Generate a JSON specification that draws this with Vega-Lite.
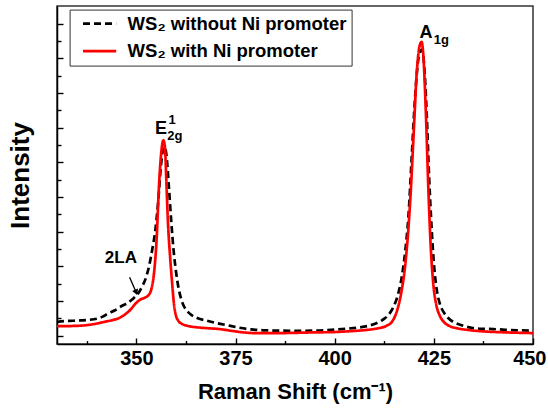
{
  "$schema": "https://vega.github.io/schema/vega-lite/v6.json",
  "width": 476,
  "height": 338,
  "autosize": {"type": "none"},
  "padding": {"left": 57, "top": 6, "right": 15, "bottom": 64},
  "background": "white",
  "config": {
    "font": "Liberation Sans",
    "view": {"stroke": "#333333", "strokeWidth": 1.5}
  },
  "datasets": {
    "spectra": [
      {"series": "WS₂ without Ni promoter", "shift": 330, "intensity": 0.80},
      {"series": "WS₂ without Ni promoter", "shift": 332, "intensity": 0.84},
      {"series": "WS₂ without Ni promoter", "shift": 334, "intensity": 0.86},
      {"series": "WS₂ without Ni promoter", "shift": 336, "intensity": 0.88},
      {"series": "WS₂ without Ni promoter", "shift": 338, "intensity": 0.91},
      {"series": "WS₂ without Ni promoter", "shift": 340, "intensity": 0.98},
      {"series": "WS₂ without Ni promoter", "shift": 341.5, "intensity": 1.10},
      {"series": "WS₂ without Ni promoter", "shift": 343, "intensity": 1.30},
      {"series": "WS₂ without Ni promoter", "shift": 344.5, "intensity": 1.45},
      {"series": "WS₂ without Ni promoter", "shift": 346, "intensity": 1.67},
      {"series": "WS₂ without Ni promoter", "shift": 347.5, "intensity": 1.85},
      {"series": "WS₂ without Ni promoter", "shift": 349, "intensity": 2.10},
      {"series": "WS₂ without Ni promoter", "shift": 350.5, "intensity": 2.45},
      {"series": "WS₂ without Ni promoter", "shift": 351.5, "intensity": 2.85},
      {"series": "WS₂ without Ni promoter", "shift": 352.5, "intensity": 3.40},
      {"series": "WS₂ without Ni promoter", "shift": 353.3, "intensity": 4.10},
      {"series": "WS₂ without Ni promoter", "shift": 354, "intensity": 4.95},
      {"series": "WS₂ without Ni promoter", "shift": 354.8, "intensity": 6.1},
      {"series": "WS₂ without Ni promoter", "shift": 355.5, "intensity": 7.7},
      {"series": "WS₂ without Ni promoter", "shift": 356.2, "intensity": 9.8},
      {"series": "WS₂ without Ni promoter", "shift": 356.7, "intensity": 10.7},
      {"series": "WS₂ without Ni promoter", "shift": 357.1, "intensity": 10.9},
      {"series": "WS₂ without Ni promoter", "shift": 357.6, "intensity": 10.4},
      {"series": "WS₂ without Ni promoter", "shift": 358.2, "intensity": 8.6},
      {"series": "WS₂ without Ni promoter", "shift": 358.8, "intensity": 6.6},
      {"series": "WS₂ without Ni promoter", "shift": 359.4, "intensity": 4.9},
      {"series": "WS₂ without Ni promoter", "shift": 360, "intensity": 3.7},
      {"series": "WS₂ without Ni promoter", "shift": 360.6, "intensity": 2.8},
      {"series": "WS₂ without Ni promoter", "shift": 361.2, "intensity": 2.2},
      {"series": "WS₂ without Ni promoter", "shift": 362, "intensity": 1.7},
      {"series": "WS₂ without Ni promoter", "shift": 362.8, "intensity": 1.42},
      {"series": "WS₂ without Ni promoter", "shift": 364, "intensity": 1.18},
      {"series": "WS₂ without Ni promoter", "shift": 365.5, "intensity": 1.0},
      {"series": "WS₂ without Ni promoter", "shift": 367.5, "intensity": 0.88},
      {"series": "WS₂ without Ni promoter", "shift": 370, "intensity": 0.74},
      {"series": "WS₂ without Ni promoter", "shift": 373, "intensity": 0.60},
      {"series": "WS₂ without Ni promoter", "shift": 376, "intensity": 0.46},
      {"series": "WS₂ without Ni promoter", "shift": 379, "intensity": 0.36},
      {"series": "WS₂ without Ni promoter", "shift": 382, "intensity": 0.31},
      {"series": "WS₂ without Ni promoter", "shift": 386, "intensity": 0.29},
      {"series": "WS₂ without Ni promoter", "shift": 390, "intensity": 0.28},
      {"series": "WS₂ without Ni promoter", "shift": 395, "intensity": 0.29},
      {"series": "WS₂ without Ni promoter", "shift": 400, "intensity": 0.35},
      {"series": "WS₂ without Ni promoter", "shift": 403, "intensity": 0.40},
      {"series": "WS₂ without Ni promoter", "shift": 406, "intensity": 0.47},
      {"series": "WS₂ without Ni promoter", "shift": 408.5, "intensity": 0.57},
      {"series": "WS₂ without Ni promoter", "shift": 410.5, "intensity": 0.72},
      {"series": "WS₂ without Ni promoter", "shift": 412, "intensity": 0.9},
      {"series": "WS₂ without Ni promoter", "shift": 413.5, "intensity": 1.18},
      {"series": "WS₂ without Ni promoter", "shift": 414.8, "intensity": 1.65},
      {"series": "WS₂ without Ni promoter", "shift": 416, "intensity": 2.4},
      {"series": "WS₂ without Ni promoter", "shift": 417, "intensity": 3.5},
      {"series": "WS₂ without Ni promoter", "shift": 417.8, "intensity": 4.9},
      {"series": "WS₂ without Ni promoter", "shift": 418.6, "intensity": 6.9},
      {"series": "WS₂ without Ni promoter", "shift": 419.4, "intensity": 10.2},
      {"series": "WS₂ without Ni promoter", "shift": 420.2, "intensity": 13.5},
      {"series": "WS₂ without Ni promoter", "shift": 421, "intensity": 15.8},
      {"series": "WS₂ without Ni promoter", "shift": 421.6, "intensity": 16.4},
      {"series": "WS₂ without Ni promoter", "shift": 422, "intensity": 16.5},
      {"series": "WS₂ without Ni promoter", "shift": 422.6, "intensity": 15.5},
      {"series": "WS₂ without Ni promoter", "shift": 423.2, "intensity": 12.8},
      {"series": "WS₂ without Ni promoter", "shift": 423.8, "intensity": 9.2},
      {"series": "WS₂ without Ni promoter", "shift": 424.3, "intensity": 6.8},
      {"series": "WS₂ without Ni promoter", "shift": 425, "intensity": 4.2},
      {"series": "WS₂ without Ni promoter", "shift": 425.7, "intensity": 2.7},
      {"series": "WS₂ without Ni promoter", "shift": 426.5, "intensity": 1.85},
      {"series": "WS₂ without Ni promoter", "shift": 427.5, "intensity": 1.35},
      {"series": "WS₂ without Ni promoter", "shift": 428.5, "intensity": 1.05},
      {"series": "WS₂ without Ni promoter", "shift": 430, "intensity": 0.78},
      {"series": "WS₂ without Ni promoter", "shift": 432, "intensity": 0.6},
      {"series": "WS₂ without Ni promoter", "shift": 434.5, "intensity": 0.46},
      {"series": "WS₂ without Ni promoter", "shift": 437, "intensity": 0.40},
      {"series": "WS₂ without Ni promoter", "shift": 440, "intensity": 0.38},
      {"series": "WS₂ without Ni promoter", "shift": 443, "intensity": 0.34},
      {"series": "WS₂ without Ni promoter", "shift": 446, "intensity": 0.31},
      {"series": "WS₂ without Ni promoter", "shift": 450, "intensity": 0.29},
      {"series": "WS₂ with Ni promoter", "shift": 330, "intensity": 0.55},
      {"series": "WS₂ with Ni promoter", "shift": 332, "intensity": 0.55},
      {"series": "WS₂ with Ni promoter", "shift": 334, "intensity": 0.56},
      {"series": "WS₂ with Ni promoter", "shift": 336, "intensity": 0.58},
      {"series": "WS₂ with Ni promoter", "shift": 338, "intensity": 0.62},
      {"series": "WS₂ with Ni promoter", "shift": 340, "intensity": 0.70},
      {"series": "WS₂ with Ni promoter", "shift": 342, "intensity": 0.80},
      {"series": "WS₂ with Ni promoter", "shift": 344, "intensity": 0.90},
      {"series": "WS₂ with Ni promoter", "shift": 345.5, "intensity": 1.0},
      {"series": "WS₂ with Ni promoter", "shift": 347, "intensity": 1.20},
      {"series": "WS₂ with Ni promoter", "shift": 348.5, "intensity": 1.50},
      {"series": "WS₂ with Ni promoter", "shift": 350, "intensity": 1.90},
      {"series": "WS₂ with Ni promoter", "shift": 351, "intensity": 2.08},
      {"series": "WS₂ with Ni promoter", "shift": 352, "intensity": 2.18},
      {"series": "WS₂ with Ni promoter", "shift": 353, "intensity": 2.32},
      {"series": "WS₂ with Ni promoter", "shift": 353.8, "intensity": 2.7},
      {"series": "WS₂ with Ni promoter", "shift": 354.5, "intensity": 3.7},
      {"series": "WS₂ with Ni promoter", "shift": 355.1, "intensity": 5.5},
      {"series": "WS₂ with Ni promoter", "shift": 355.7, "intensity": 8.6},
      {"series": "WS₂ with Ni promoter", "shift": 356.3, "intensity": 10.6},
      {"series": "WS₂ with Ni promoter", "shift": 356.8, "intensity": 11.27},
      {"series": "WS₂ with Ni promoter", "shift": 357.2, "intensity": 10.9},
      {"series": "WS₂ with Ni promoter", "shift": 357.6, "intensity": 8.7},
      {"series": "WS₂ with Ni promoter", "shift": 358.0, "intensity": 6.4},
      {"series": "WS₂ with Ni promoter", "shift": 358.5, "intensity": 4.6},
      {"series": "WS₂ with Ni promoter", "shift": 359, "intensity": 3.1},
      {"series": "WS₂ with Ni promoter", "shift": 359.5, "intensity": 1.8},
      {"series": "WS₂ with Ni promoter", "shift": 360, "intensity": 1.15},
      {"series": "WS₂ with Ni promoter", "shift": 360.6, "intensity": 0.85},
      {"series": "WS₂ with Ni promoter", "shift": 361.5, "intensity": 0.68},
      {"series": "WS₂ with Ni promoter", "shift": 363, "intensity": 0.56},
      {"series": "WS₂ with Ni promoter", "shift": 365, "intensity": 0.49},
      {"series": "WS₂ with Ni promoter", "shift": 368, "intensity": 0.43},
      {"series": "WS₂ with Ni promoter", "shift": 371, "intensity": 0.38},
      {"series": "WS₂ with Ni promoter", "shift": 374, "intensity": 0.28},
      {"series": "WS₂ with Ni promoter", "shift": 377, "intensity": 0.19},
      {"series": "WS₂ with Ni promoter", "shift": 380, "intensity": 0.15},
      {"series": "WS₂ with Ni promoter", "shift": 386, "intensity": 0.15},
      {"series": "WS₂ with Ni promoter", "shift": 395, "intensity": 0.19},
      {"series": "WS₂ with Ni promoter", "shift": 400, "intensity": 0.21},
      {"series": "WS₂ with Ni promoter", "shift": 404, "intensity": 0.26},
      {"series": "WS₂ with Ni promoter", "shift": 408, "intensity": 0.33},
      {"series": "WS₂ with Ni promoter", "shift": 411, "intensity": 0.43},
      {"series": "WS₂ with Ni promoter", "shift": 413, "intensity": 0.56},
      {"series": "WS₂ with Ni promoter", "shift": 414.5, "intensity": 0.82},
      {"series": "WS₂ with Ni promoter", "shift": 415.8, "intensity": 1.5},
      {"series": "WS₂ with Ni promoter", "shift": 416.8, "intensity": 2.5},
      {"series": "WS₂ with Ni promoter", "shift": 417.7, "intensity": 3.9},
      {"series": "WS₂ with Ni promoter", "shift": 418.5, "intensity": 5.9},
      {"series": "WS₂ with Ni promoter", "shift": 419.2, "intensity": 8.4},
      {"series": "WS₂ with Ni promoter", "shift": 419.9, "intensity": 11.6},
      {"series": "WS₂ with Ni promoter", "shift": 420.7, "intensity": 15.2},
      {"series": "WS₂ with Ni promoter", "shift": 421.4, "intensity": 16.7},
      {"series": "WS₂ with Ni promoter", "shift": 421.9, "intensity": 16.95},
      {"series": "WS₂ with Ni promoter", "shift": 422.4, "intensity": 16.0},
      {"series": "WS₂ with Ni promoter", "shift": 423, "intensity": 12.8},
      {"series": "WS₂ with Ni promoter", "shift": 423.6, "intensity": 8.6},
      {"series": "WS₂ with Ni promoter", "shift": 424.2, "intensity": 5.2},
      {"series": "WS₂ with Ni promoter", "shift": 424.9, "intensity": 2.9},
      {"series": "WS₂ with Ni promoter", "shift": 425.6, "intensity": 1.8},
      {"series": "WS₂ with Ni promoter", "shift": 426.5, "intensity": 1.15},
      {"series": "WS₂ with Ni promoter", "shift": 427.5, "intensity": 0.8},
      {"series": "WS₂ with Ni promoter", "shift": 429, "intensity": 0.55},
      {"series": "WS₂ with Ni promoter", "shift": 431, "intensity": 0.42},
      {"series": "WS₂ with Ni promoter", "shift": 434, "intensity": 0.32},
      {"series": "WS₂ with Ni promoter", "shift": 438, "intensity": 0.24},
      {"series": "WS₂ with Ni promoter", "shift": 442, "intensity": 0.20},
      {"series": "WS₂ with Ni promoter", "shift": 446, "intensity": 0.17},
      {"series": "WS₂ with Ni promoter", "shift": 450, "intensity": 0.15}
    ],
    "peakLabels": [
      {"shift": 356.2, "intensity": 11.65, "label": "E"},
      {"shift": 423.0, "intensity": 17.18, "label": "A"}
    ],
    "peakIndices": [
      {"shift": 358.1, "intensity": 12.19, "label": "1"},
      {"shift": 357.8, "intensity": 11.27, "label": "2g"},
      {"shift": 425.0, "intensity": 16.81, "label": "1g"}
    ],
    "modeLabels": [
      {"shift": 346.1, "intensity": 4.2, "label": "2LA"}
    ],
    "arrows": [
      {"shift": 348.3, "intensity": 3.37, "shift2": 349.95, "intensity2": 2.5}
    ]
  },
  "layer": [
    {
      "data": {"name": "spectra"},
      "mark": {"type": "line", "interpolate": "monotone", "strokeWidth": 2.7, "clip": true},
      "encoding": {
        "x": {
          "field": "shift", "type": "quantitative",
          "scale": {"domain": [330, 450], "nice": false, "zero": false},
          "axis": {
            "title": "Raman Shift (cm⁻¹)",
            "values": [337.5, 350, 362.5, 375, 387.5, 400, 412.5, 425, 437.5, 450],
            "tickCount": 100,
            "labelExpr": "datum.value % 25 === 0 ? datum.label : ''",
            "tickSize": {"condition": {"test": "datum.value % 25 === 0", "value": -6}, "value": -3.5},
            "grid": false,
            "domainColor": "black", "domainWidth": 1.5,
            "tickColor": "black", "tickWidth": 1.4,
            "labelFont": "Liberation Sans", "labelFontSize": 20, "labelFontWeight": "bold", "labelColor": "black",
            "labelPadding": 10, "labelFlush": true, "labelFlushOffset": 13, "labelOverlap": false,
            "titleFont": "Liberation Sans", "titleFontSize": 22, "titleFontWeight": "bold", "titleColor": "black",
            "titlePadding": 11
          }
        },
        "y": {
          "field": "intensity", "type": "quantitative",
          "scale": {"domain": [-0.48, 19.02], "nice": false, "zero": false},
          "axis": {
            "title": "Intensity",
            "values": [0, 1, 2, 3, 4, 5, 6, 7, 8, 9, 10, 11, 12, 13, 14, 15, 16, 17, 18],
            "tickCount": 100,
            "labels": false,
            "tickSize": {"condition": {"test": "datum.value % 2 === 0", "value": -6}, "value": -4},
            "grid": false,
            "domainColor": "black", "domainWidth": 1.5,
            "tickColor": "black", "tickWidth": 1.4,
            "titleFont": "Liberation Sans", "titleFontSize": 26, "titleFontWeight": "bold", "titleColor": "black",
            "titlePadding": 23
          }
        },
        "color": {
          "field": "series", "type": "nominal",
          "scale": {"domain": ["WS₂ without Ni promoter", "WS₂ with Ni promoter"], "range": ["#000000", "#ff0000"]},
          "legend": {
            "title": null,
            "orient": "none", "legendX": 12.6, "legendY": 3.6,
            "direction": "vertical",
            "symbolType": "stroke", "symbolSize": 1100, "symbolStrokeWidth": 2.7,
            "symbolOffset": 7, "clipHeight": 18,
            "labelFont": "Liberation Sans", "labelFontSize": 18.5, "labelFontWeight": "bold", "labelColor": "black",
            "labelOffset": 10, "labelLimit": 400,
            "rowPadding": 8.5, "padding": 5,
            "strokeColor": "#333333", "fillColor": "white"
          }
        },
        "strokeDash": {
          "field": "series", "type": "nominal",
          "scale": {"domain": ["WS₂ without Ni promoter", "WS₂ with Ni promoter"], "range": [[7, 4], [1, 0]]},
          "legend": {
            "title": null,
            "orient": "none", "legendX": 12.6, "legendY": 3.6,
            "direction": "vertical",
            "symbolType": "stroke", "symbolSize": 1100, "symbolStrokeWidth": 2.7,
            "symbolOffset": 7, "clipHeight": 18,
            "labelFont": "Liberation Sans", "labelFontSize": 18.5, "labelFontWeight": "bold", "labelColor": "black",
            "labelOffset": 10, "labelLimit": 400,
            "rowPadding": 8.5, "padding": 5,
            "strokeColor": "#333333", "fillColor": "white"
          }
        }
      }
    },
    {
      "data": {"name": "peakLabels"},
      "mark": {"type": "text", "font": "Liberation Sans", "fontSize": 18, "fontWeight": "bold", "color": "black", "align": "center", "baseline": "alphabetic"},
      "encoding": {
        "x": {"field": "shift", "type": "quantitative"},
        "y": {"field": "intensity", "type": "quantitative"},
        "text": {"field": "label"}
      }
    },
    {
      "data": {"name": "peakIndices"},
      "mark": {"type": "text", "font": "Liberation Sans", "fontSize": 13, "fontWeight": "bold", "color": "black", "align": "left", "baseline": "alphabetic"},
      "encoding": {
        "x": {"field": "shift", "type": "quantitative"},
        "y": {"field": "intensity", "type": "quantitative"},
        "text": {"field": "label"}
      }
    },
    {
      "data": {"name": "modeLabels"},
      "mark": {"type": "text", "font": "Liberation Sans", "fontSize": 17, "fontWeight": "bold", "color": "black", "align": "center", "baseline": "alphabetic"},
      "encoding": {
        "x": {"field": "shift", "type": "quantitative"},
        "y": {"field": "intensity", "type": "quantitative"},
        "text": {"field": "label"}
      }
    },
    {
      "data": {"name": "arrows"},
      "mark": {"type": "rule", "color": "black", "strokeWidth": 1.3},
      "encoding": {
        "x": {"field": "shift", "type": "quantitative"},
        "y": {"field": "intensity", "type": "quantitative"},
        "x2": {"field": "shift2"},
        "y2": {"field": "intensity2"}
      }
    },
    {
      "data": {"name": "arrows"},
      "mark": {"type": "point", "shape": "triangle-down", "filled": true, "size": 40, "angle": 338, "color": "black", "opacity": 1},
      "encoding": {
        "x": {"field": "shift2", "type": "quantitative"},
        "y": {"field": "intensity2", "type": "quantitative"}
      }
    }
  ]
}
